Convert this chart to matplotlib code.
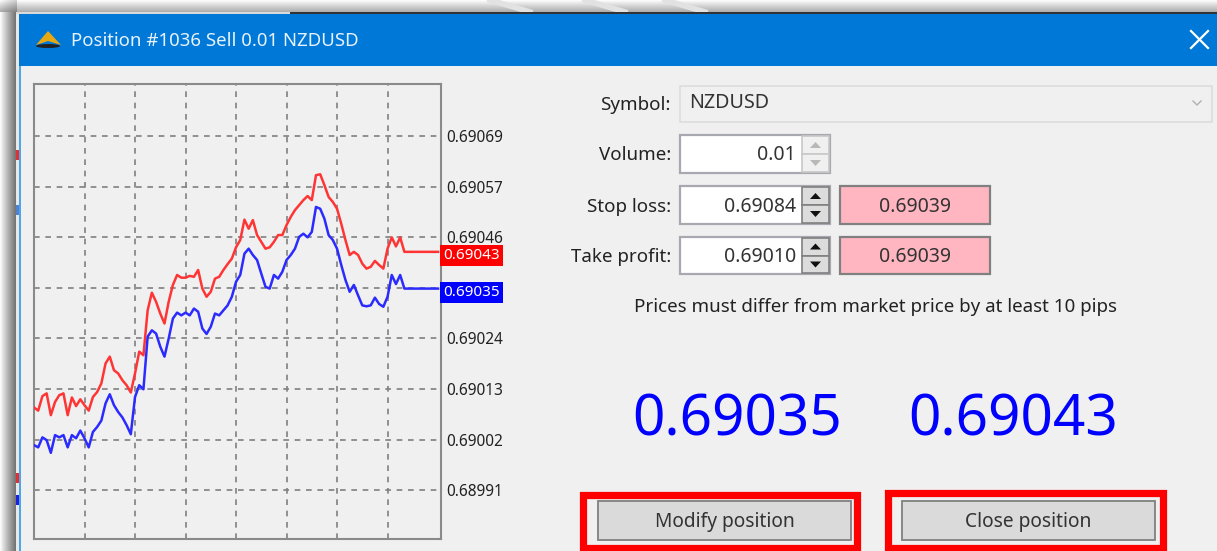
import numpy as np
import matplotlib
matplotlib.use('Agg')
import matplotlib.pyplot as plt
from matplotlib.patches import Rectangle, Polygon, Ellipse

plt.rcParams['font.family'] = ['Noto Sans', 'DejaVu Sans']

# prices, one value per bar
ask = [0.690092, 0.690085, 0.690117, 0.690123, 0.690075, 0.690104, 0.690119, 0.690123,
       0.690075, 0.690114, 0.690095, 0.690110, 0.690097, 0.690085, 0.690115, 0.690126,
       0.690145, 0.690189, 0.690204, 0.690174, 0.690167, 0.690152, 0.690141, 0.690125,
       0.690167, 0.690215, 0.690207, 0.690306, 0.690345, 0.690325, 0.690299, 0.690277,
       0.690325, 0.690362, 0.690384, 0.690378, 0.690378, 0.690382, 0.690380, 0.690395,
       0.690354, 0.690336, 0.690347, 0.690376, 0.690380, 0.690395, 0.690408, 0.690420,
       0.690445, 0.690461, 0.690506, 0.690486, 0.690505, 0.690472, 0.690457, 0.690442,
       0.690445, 0.690457, 0.690472, 0.690472, 0.690494, 0.690512, 0.690527, 0.690538,
       0.690549, 0.690558, 0.690549, 0.690604, 0.690606, 0.690582, 0.690556, 0.690545,
       0.690530, 0.690497, 0.690461, 0.690428, 0.690435, 0.690428, 0.690409, 0.690398,
       0.690402, 0.690415, 0.690406, 0.690398, 0.690442, 0.690467, 0.690447, 0.690467,
       0.690435, 0.690435, 0.690435, 0.690435, 0.690435, 0.690435, 0.690435, 0.690435,
       0.690435]
bid = [0.690009, 0.690004, 0.690026, 0.690020, 0.689992, 0.690031, 0.690026, 0.690031,
       0.690004, 0.690031, 0.690024, 0.690041, 0.690024, 0.690004, 0.690038, 0.690049,
       0.690063, 0.690101, 0.690121, 0.690097, 0.690082, 0.690070, 0.690053, 0.690033,
       0.690115, 0.690141, 0.690132, 0.690248, 0.690262, 0.690255, 0.690226, 0.690204,
       0.690244, 0.690288, 0.690301, 0.690295, 0.690301, 0.690295, 0.690310, 0.690303,
       0.690266, 0.690254, 0.690270, 0.690299, 0.690295, 0.690306, 0.690317, 0.690336,
       0.690369, 0.690384, 0.690431, 0.690442, 0.690428, 0.690417, 0.690387, 0.690358,
       0.690354, 0.690384, 0.690376, 0.690391, 0.690417, 0.690428, 0.690442, 0.690468,
       0.690475, 0.690467, 0.690479, 0.690534, 0.690530, 0.690508, 0.690472, 0.690461,
       0.690442, 0.690406, 0.690373, 0.690347, 0.690362, 0.690339, 0.690317, 0.690315,
       0.690317, 0.690334, 0.690320, 0.690314, 0.690336, 0.690384, 0.690364, 0.690384,
       0.690354, 0.690354, 0.690354, 0.690354, 0.690354, 0.690354, 0.690354, 0.690354,
       0.690354]
price_ticks = [0.690690, 0.690579, 0.690467, 0.690356, 0.690245, 0.690133, 0.690021, 0.689910]
price_labels = ['0.69069', '0.69057', '0.69046', '0.69035', '0.69024', '0.69013', '0.69002', '0.68991']
bar_ticks = [12, 24, 36, 48, 60, 72, 84]
bid_label = '0.69035'
ask_label = '0.69043'

title = 'Position #1036 Sell 0.01 NZDUSD'
notice = 'Prices must differ from market price by at least 10 pips'

W, H = 1217, 551
BG = '#f0f0f0'
GREY = '#808080'

fig = plt.figure(figsize=(W / 100, H / 100), dpi=100, facecolor='white')

# the dialog itself is drawn in pixel coordinates
ui = fig.add_axes([0, 0, 1, 1], zorder=1)
ui.axis('off')


def box(x0, y0, x1, y1, fc, ec='none', lw=1.0, z=2):
    ui.add_patch(Rectangle((x0, y0), x1 - x0, y1 - y0, fc=fc, ec=ec, lw=lw, zorder=z))


def label(x, y, s, size=13.5, color='#222222', ha='center', **kw):
    ui.text(x, y + 1.5, s, fontsize=size, color=color, ha=ha, va='center', zorder=5, **kw)


# window shadow
ui.imshow(np.linspace(1.0, 0.58, 60)[None, :] ** 1.6, extent=(0, 17, H, 0),
          cmap='gray', vmin=0, vmax=1, aspect='auto', zorder=0)
ui.imshow(np.linspace(1.0, 0.68, 60)[:, None] ** 1.6, extent=(0, W, 12, 0),
          cmap='gray', vmin=0, vmax=1, aspect='auto', zorder=0, alpha=0.7)
for x0, x1 in [(490, 530), (585, 625), (665, 705)]:
    ui.plot([x0, x1], [0, 12], color='#e2e2e2', lw=4, zorder=0.5)
ui.set_xlim(0, W)
ui.set_ylim(H, 0)

# bits of the window behind
box(16, 12, 290, 14, '#d9d9d9')
box(290, 12, W, 14, '#333333')
box(16, 14, 19, H, '#e8e8e8')
for y, c in [(150, '#e03030'), (205, '#5080d0'), (473, '#e03030'), (495, '#2020e0')]:
    box(16, y, 19, y + 10, c, z=2)

box(19, 14, W, H, BG)
box(19, 14, W, 66, '#0078d7')
box(19, 66, 21, H, '#4da6e8')
ui.add_patch(Polygon([[36, 45], [48, 31], [61, 45], [48, 41]], fc='#e8a812', zorder=4))
ui.add_patch(Ellipse((48, 46), 24, 4, fc='#222222', zorder=4))
label(71, 39.5, title, size=13.4, color='#e8f2fb', ha='left')
ui.plot([1191, 1208], [31, 48], color='white', lw=1.6, zorder=4)
ui.plot([1191, 1208], [48, 31], color='white', lw=1.6, zorder=4)

# form on the right
label(671, 104, 'Symbol:', ha='right')
box(680, 86, 1212, 122, '#f0f0f0', '#dcdcdc', 1.2)
label(689, 102, 'NZDUSD', size=14.2, ha='left', color='#333333')
ui.plot([1193, 1197, 1201], [101, 105, 101], color='#b0b0b0', lw=1, zorder=4)

rows = [(135, 173, 'Volume:', '0.01', None), (186, 224, 'Stop loss:', '0.69084', '0.69039'),
        (237, 274, 'Take profit:', '0.69010', '0.69039')]
for y0, y1, name, val, check in rows:
    ym = (y0 + y1) / 2
    active = check is not None
    label(671, ym, name, ha='right')
    box(680, y0, 830, y1, 'white', '#a8a8b0', 1.6)
    label(796, ym, val, size=14, ha='right', color='#333333')
    edge = '#808080' if active else '#c8c8c8'
    face = '#dcdcdc' if active else '#f0f0f0'
    arrow = '#111111' if active else '#b8b8b8'
    box(802, y0 + 1, 829, ym, face, edge, 1.2, z=3)
    box(802, ym, 829, y1 - 1, face, edge, 1.2, z=3)
    ui.add_patch(Polygon([[810, ym - 6], [815.5, ym - 12], [821, ym - 6]], fc=arrow, zorder=4))
    ui.add_patch(Polygon([[810, ym + 6], [815.5, ym + 12], [821, ym + 6]], fc=arrow, zorder=4))
    if active:
        box(840, y0, 990, y1, '#ffb6c1', '#808080', 1.6)
        label(915, ym, check, size=14, color='#333333')

label(876, 305, notice, size=13.5)
label(737, 420, bid_label, size=40.8, color='#0000ff')
label(1013, 420, ask_label, size=40.8, color='#0000ff')

# buttons with the red marking round them
for x0, x1, y0, x2, x3, text in [(583, 857, 495, 598, 851, 'Modify position'),
                                 (888, 1163, 493, 902, 1155, 'Close position')]:
    box(x0, y0, x1, 548, 'none', '#ff0000', 5.2, z=3)
    box(x2, 501, x3, 540, '#dadada', GREY, 1.3)
    label((x2 + x3) / 2, 520, text, size=13.8, color='#333333')

# price chart
ax = fig.add_axes([34 / W, 1 - 539 / H, (441 - 34) / W, (539 - 84) / H], zorder=2)
ax.set_facecolor(BG)
ax.plot(ask, color='#ff3535', lw=1.8, zorder=3)
ax.plot(bid, color='#2b2bff', lw=1.8, zorder=3)
ax.set_xlim(0, 96.7)
ax.set_ylim(0.689802, 0.690805)
ax.set_xticks(bar_ticks)
ax.set_yticks(price_ticks)
ax.set_yticklabels(price_labels)
ax.yaxis.tick_right()
ax.tick_params(axis='x', length=0, labelbottom=False)
ax.tick_params(axis='y', length=0, pad=3.5, labelsize=11.1, labelcolor='#222222')
ax.grid(True, color=GREY, lw=1.2, linestyle=(0, (3.4, 3.4)))
ax.set_axisbelow(True)
for s in ax.spines.values():
    s.set_color('#8a8a8a')
    s.set_linewidth(1.5)

for val, txt, c in [(ask[-1], ask_label, '#ff0000'), (bid[-1], bid_label, '#0000ff')]:
    ax.annotate(txt, xy=(1, val), xycoords=('axes fraction', 'data'), xytext=(1.8, -2.5),
                textcoords='offset points', va='center', ha='left', color='white', fontsize=11,
                bbox=dict(boxstyle='square,pad=0.2', fc=c, ec='none'), zorder=6,
                annotation_clip=False)

fig.savefig('out.png', dpi=100, facecolor=fig.get_facecolor())
